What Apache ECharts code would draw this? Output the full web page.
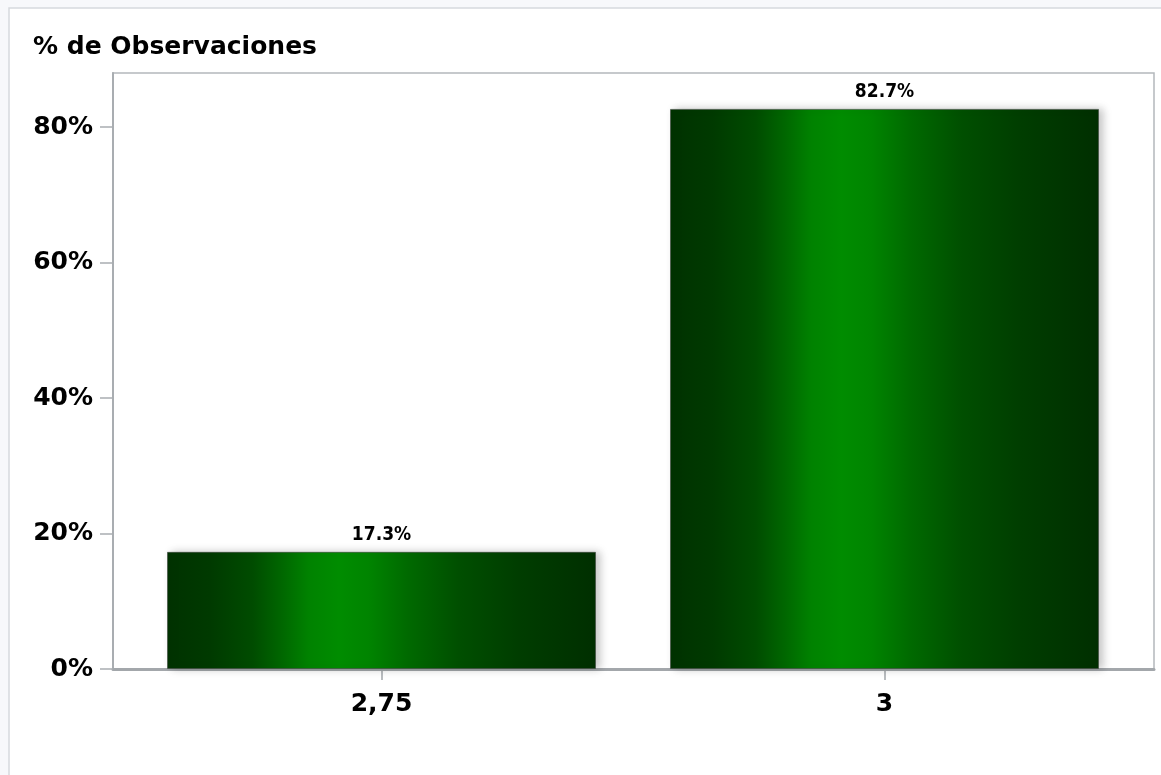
<!DOCTYPE html>
<html>
<head>
<meta charset="utf-8">
<script src="https://cdn.jsdelivr.net/npm/echarts@6/dist/echarts.min.js"></script>
<style>
html,body{margin:0;padding:0;background:#f7f8fb;}
#chart{width:1161px;height:775px;}
</style>
</head>
<body>
<div id="chart"></div>
<script>
var categoryValues = [2.75, 3];
var categoryLabels = ['2,75', '3'];
var percentValues = [17.3, 82.7];
var yTicks = [0, 20, 40, 60, 80];
var titleText = '% de Observaciones';

var chart = echarts.init(document.getElementById('chart'));
var seriesData = categoryValues.map(function (c, i) { return [c, percentValues[i]]; });

var grad = new echarts.graphic.LinearGradient(0, 0, 1, 0, [
  {offset: 0, color: '#003200'},
  {offset: 0.10, color: '#003a00'},
  {offset: 0.20, color: '#004c00'},
  {offset: 0.27, color: '#006800'},
  {offset: 0.33, color: '#008200'},
  {offset: 0.40, color: '#008c00'},
  {offset: 0.47, color: '#008400'},
  {offset: 0.56, color: '#006a00'},
  {offset: 0.68, color: '#004f00'},
  {offset: 0.82, color: '#003d00'},
  {offset: 1, color: '#002f00'}
]);

chart.setOption({
  backgroundColor: '#f7f8fb',
  animation: false,
  graphic: [{
    type: 'rect', z: -10, silent: true,
    shape: {x: 9, y: 8, width: 1170, height: 790},
    style: {fill: '#ffffff', stroke: '#d6d9de', lineWidth: 1.5}
  }],
  title: {
    text: titleText, left: 28, top: 30,
    textStyle: {fontFamily: 'DejaVu Sans', fontWeight: 'bold', fontSize: 25, color: '#000'}
  },
  grid: {
    left: 113, right: 7, top: 73, bottom: 106,
    show: true, borderColor: '#b4b8bc', borderWidth: 1.5, backgroundColor: '#ffffff'
  },
  xAxis: {
    type: 'value', min: 2.61655, max: 3.13394,
    splitLine: {show: false},
    axisLine: {show: true, lineStyle: {color: '#a3a7ab', width: 3}},
    axisTick: {show: true, length: 11, lineStyle: {color: '#a3a7ab', width: 1.5}, customValues: categoryValues},
    axisLabel: {
      customValues: categoryValues, margin: 23,
      fontFamily: 'DejaVu Sans', fontWeight: 'bold', fontSize: 25, color: '#000',
      formatter: function (v) { var i = categoryValues.indexOf(v); return i >= 0 ? categoryLabels[i] : ''; }
    }
  },
  yAxis: {
    type: 'value', min: 0, max: 88,
    splitLine: {show: false},
    axisLine: {show: true, lineStyle: {color: '#a9adb1', width: 2}},
    axisTick: {show: true, length: 13, lineStyle: {color: '#a9adb1', width: 1.5}, customValues: yTicks},
    axisLabel: {
      customValues: yTicks, margin: 20,
      fontFamily: 'DejaVu Sans', fontWeight: 'bold', fontSize: 25, color: '#000',
      formatter: '{value}%'
    }
  },
  series: [{
    type: 'bar',
    data: seriesData,
    barWidth: 429,
    itemStyle: {
      color: grad,
      borderColor: 'rgba(60,70,60,0.6)', borderWidth: 1,
      shadowColor: 'rgba(0,0,0,0.22)', shadowBlur: 8, shadowOffsetX: 4, shadowOffsetY: 0
    },
    label: {
      show: true, position: 'top', distance: 7,
      fontFamily: 'DejaVu Sans Condensed, DejaVu Sans', fontWeight: 'bold', fontSize: 19, color: '#000',
      formatter: function (p) { return p.value[1].toFixed(1) + '%'; }
    }
  }]
});
</script>
</body>
</html>
